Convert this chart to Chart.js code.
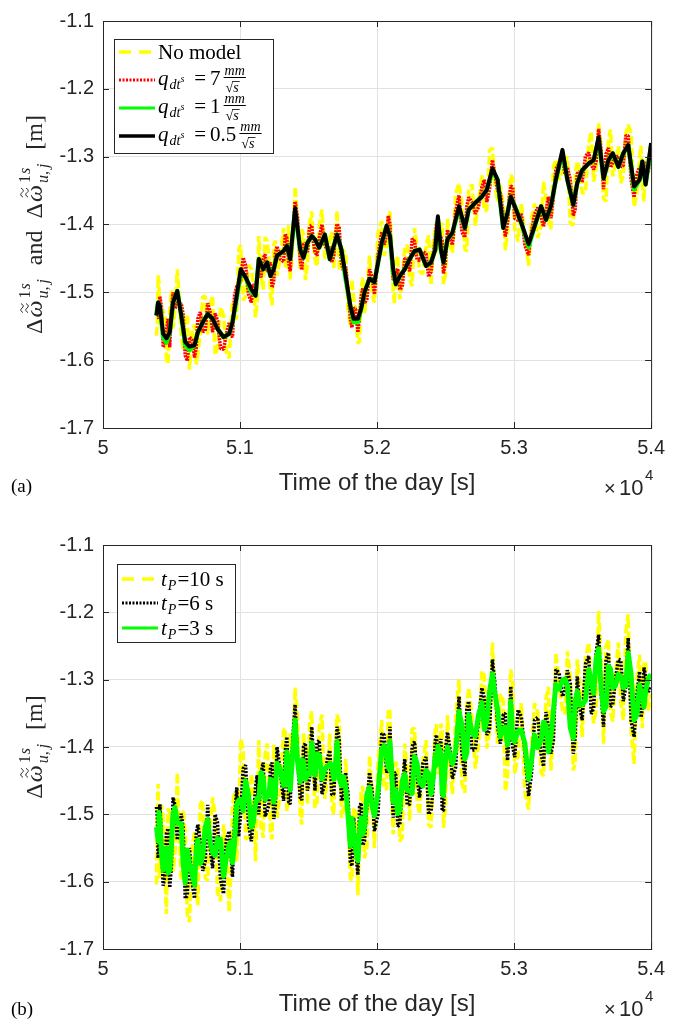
<!DOCTYPE html>
<html>
<head>
<meta charset="utf-8">
<script src="https://cdn.jsdelivr.net/npm/chart.js@4.4.1/dist/chart.umd.min.js"></script>
<style>
  html, body { margin: 0; padding: 0; background: #fff; }
  #wrap { position: relative; width: 673px; height: 1023px; }
  canvas { position: absolute; left: 0; }
</style>
</head>
<body>
<div id="wrap">
  <canvas id="chartA" width="673" height="512" style="top:0"></canvas>
  <canvas id="chartB" width="673" height="511" style="top:512px"></canvas>
</div>
<script>
// time of the day [s], read along the black trace of panel (a)
const sampleTimes = [
  50390, 50402, 50415, 50439, 50463, 50487, 50511, 50542, 50571, 50600,
  50631, 50668, 50692, 50728, 50764, 50800, 50836, 50880, 50921, 50945,
  50976, 51005, 51041, 51082, 51113, 51137, 51169, 51198, 51222, 51246,
  51270, 51318, 51342, 51366, 51402, 51439, 51463, 51492, 51523, 51547,
  51578, 51619, 51655, 51684, 51708, 51740, 51771, 51805, 51829, 51860,
  51884, 51908, 51945, 51981, 52034, 52070, 52094, 52118, 52137, 52166,
  52202, 52238, 52274, 52310, 52358, 52394, 52425, 52444, 52466, 52485,
  52514, 52550, 52598, 52641, 52669, 52717, 52765, 52801, 52842, 52880,
  52921, 52952, 52976, 53005, 53053, 53106, 53149, 53197, 53233, 53269,
  53305, 53353, 53389, 53432, 53461, 53497, 53545, 53581, 53617, 53653,
  53689, 53720, 53761, 53797, 53833, 53876, 53916, 53936, 53960, 54000
];
// extra sample times in between, used by the noisy series
const midTimes = [
  50396, 50408, 50427, 50451, 50475, 50499, 50526, 50556, 50585, 50615,
  50650, 50680, 50710, 50746, 50782, 50818, 50858, 50900, 50933, 50960,
  50990, 51023, 51061, 51097, 51125, 51153, 51183, 51210, 51234, 51258,
  51294, 51330, 51354, 51384, 51420, 51451, 51477, 51507, 51535, 51562,
  51598, 51637, 51669, 51696, 51724, 51755, 51788, 51817, 51844, 51872,
  51896, 51926, 51963, 52007, 52052, 52082, 52106, 52127, 52151, 52184,
  52220, 52256, 52292, 52334, 52376, 52409, 52434, 52455, 52475, 52499,
  52532, 52574, 52619, 52655, 52693, 52741, 52783, 52821, 52861, 52900,
  52936, 52964, 52990, 53029, 53079, 53127, 53173, 53215, 53251, 53287,
  53329, 53371, 53410, 53446, 53479, 53521, 53563, 53599, 53635, 53671,
  53704, 53740, 53779, 53815, 53854, 53896, 53926, 53948, 53980
];

// ---- panel (a) ----
const qHalf = [
  -1.534, -1.515, -1.520, -1.561, -1.568, -1.559, -1.515, -1.498, -1.534, -1.573,
  -1.580, -1.578, -1.559, -1.544, -1.532, -1.539, -1.554, -1.566, -1.561, -1.544,
  -1.505, -1.466, -1.478, -1.495, -1.505, -1.451, -1.466, -1.456, -1.476, -1.466,
  -1.446, -1.439, -1.432, -1.451, -1.376, -1.437, -1.449, -1.427, -1.417, -1.422,
  -1.434, -1.415, -1.451, -1.432, -1.415, -1.437, -1.476, -1.520, -1.539, -1.539,
  -1.524, -1.500, -1.480, -1.485, -1.427, -1.402, -1.417, -1.466, -1.488, -1.476,
  -1.466, -1.451, -1.439, -1.437, -1.461, -1.456, -1.437, -1.388, -1.437, -1.456,
  -1.422, -1.412, -1.373, -1.405, -1.378, -1.368, -1.359, -1.349, -1.317, -1.334,
  -1.405, -1.383, -1.359, -1.373, -1.398, -1.429, -1.403, -1.373, -1.393, -1.373,
  -1.334, -1.290, -1.334, -1.371, -1.339, -1.320, -1.310, -1.305, -1.271, -1.332,
  -1.305, -1.295, -1.315, -1.295, -1.283, -1.344, -1.334, -1.307, -1.341, -1.280
];
const qOne = [
  -1.534, -1.515, -1.520, -1.566, -1.574, -1.559, -1.515, -1.498, -1.534, -1.578,
  -1.585, -1.578, -1.559, -1.544, -1.532, -1.539, -1.554, -1.566, -1.561, -1.544,
  -1.509, -1.470, -1.478, -1.499, -1.505, -1.451, -1.466, -1.456, -1.476, -1.466,
  -1.446, -1.439, -1.432, -1.451, -1.380, -1.437, -1.449, -1.427, -1.417, -1.422,
  -1.434, -1.415, -1.451, -1.432, -1.415, -1.437, -1.481, -1.520, -1.544, -1.544,
  -1.524, -1.500, -1.480, -1.485, -1.427, -1.402, -1.417, -1.470, -1.488, -1.476,
  -1.466, -1.451, -1.439, -1.437, -1.461, -1.456, -1.437, -1.392, -1.437, -1.456,
  -1.422, -1.412, -1.377, -1.405, -1.378, -1.368, -1.359, -1.349, -1.321, -1.334,
  -1.405, -1.383, -1.359, -1.373, -1.398, -1.433, -1.403, -1.373, -1.393, -1.373,
  -1.334, -1.294, -1.334, -1.371, -1.339, -1.320, -1.310, -1.305, -1.275, -1.332,
  -1.305, -1.295, -1.315, -1.295, -1.283, -1.348, -1.334, -1.307, -1.341, -1.284
];
const qSeven = [
  -1.522, -1.533, -1.506, -1.581, -1.556, -1.581, -1.500, -1.514, -1.516, -1.593,
  -1.566, -1.596, -1.539, -1.558, -1.516, -1.559, -1.542, -1.584, -1.545, -1.566,
  -1.491, -1.482, -1.460, -1.515, -1.493, -1.469, -1.450, -1.470, -1.456, -1.484,
  -1.432, -1.455, -1.420, -1.469, -1.366, -1.453, -1.429, -1.441, -1.401, -1.440,
  -1.420, -1.431, -1.433, -1.446, -1.399, -1.457, -1.462, -1.538, -1.523, -1.559,
  -1.506, -1.516, -1.466, -1.503, -1.411, -1.416, -1.399, -1.482, -1.474, -1.496,
  -1.450, -1.469, -1.425, -1.453, -1.443, -1.470, -1.421, -1.400, -1.419, -1.472,
  -1.408, -1.430, -1.357, -1.419, -1.360, -1.384, -1.345, -1.367, -1.305, -1.350,
  -1.387, -1.397, -1.343, -1.391, -1.384, -1.445, -1.385, -1.389, -1.379, -1.391,
  -1.318, -1.304, -1.316, -1.387, -1.325, -1.338, -1.294, -1.319, -1.259, -1.348,
  -1.287, -1.309, -1.299, -1.313, -1.269, -1.360, -1.316, -1.321, -1.325, -1.292
];
const qSevenMid = [
  -1.521, -1.539, -1.522, -1.573, -1.539, -1.526, -1.524, -1.519, -1.533, -1.601,
  -1.570, -1.582, -1.529, -1.557, -1.529, -1.531, -1.583, -1.561, -1.563, -1.505,
  -1.491, -1.449, -1.502, -1.488, -1.480, -1.478, -1.444, -1.459, -1.493, -1.443,
  -1.451, -1.414, -1.454, -1.414, -1.390, -1.467, -1.428, -1.403, -1.426, -1.446,
  -1.400, -1.437, -1.456, -1.415, -1.405, -1.468, -1.495, -1.552, -1.525, -1.537,
  -1.494, -1.510, -1.477, -1.445, -1.430, -1.387, -1.451, -1.479, -1.465, -1.492,
  -1.451, -1.421, -1.452, -1.440, -1.477, -1.445, -1.397, -1.420, -1.423, -1.456,
  -1.421, -1.380, -1.411, -1.373, -1.367, -1.374, -1.334, -1.348, -1.328, -1.353,
  -1.418, -1.361, -1.345, -1.394, -1.431, -1.411, -1.375, -1.403, -1.359, -1.360,
  -1.310, -1.325, -1.333, -1.378, -1.322, -1.299, -1.312, -1.307, -1.290, -1.296,
  -1.316, -1.301, -1.315, -1.269, -1.334, -1.325, -1.321, -1.307, -1.322
];
const noModel = [
  -1.564, -1.475, -1.548, -1.526, -1.600, -1.529, -1.553, -1.466, -1.562, -1.537,
  -1.614, -1.548, -1.591, -1.506, -1.562, -1.505, -1.582, -1.534, -1.597, -1.514,
  -1.539, -1.430, -1.506, -1.465, -1.537, -1.417, -1.496, -1.424, -1.504, -1.430,
  -1.476, -1.405, -1.464, -1.481, -1.344, -1.467, -1.415, -1.459, -1.381, -1.452,
  -1.402, -1.449, -1.421, -1.464, -1.379, -1.467, -1.442, -1.550, -1.507, -1.575,
  -1.494, -1.532, -1.446, -1.515, -1.395, -1.432, -1.381, -1.498, -1.458, -1.510,
  -1.434, -1.481, -1.405, -1.469, -1.431, -1.490, -1.405, -1.418, -1.403, -1.488,
  -1.392, -1.442, -1.339, -1.437, -1.348, -1.402, -1.327, -1.379, -1.287, -1.366,
  -1.371, -1.413, -1.327, -1.407, -1.368, -1.461, -1.369, -1.403, -1.361, -1.407,
  -1.304, -1.322, -1.300, -1.401, -1.307, -1.354, -1.280, -1.337, -1.251, -1.362,
  -1.273, -1.329, -1.285, -1.327, -1.253, -1.374, -1.302, -1.341, -1.311, -1.300
];
const noModelMid = [
  -1.549, -1.484, -1.542, -1.537, -1.605, -1.497, -1.527, -1.508, -1.585, -1.533,
  -1.557, -1.606, -1.561, -1.506, -1.519, -1.592, -1.522, -1.589, -1.548, -1.538,
  -1.437, -1.512, -1.460, -1.490, -1.514, -1.476, -1.419, -1.446, -1.519, -1.424,
  -1.448, -1.465, -1.401, -1.435, -1.394, -1.407, -1.482, -1.398, -1.427, -1.462,
  -1.378, -1.449, -1.411, -1.421, -1.464, -1.438, -1.526, -1.481, -1.525, -1.573,
  -1.478, -1.494, -1.502, -1.412, -1.446, -1.387, -1.431, -1.517, -1.446, -1.483,
  -1.430, -1.491, -1.432, -1.473, -1.416, -1.430, -1.442, -1.420, -1.398, -1.475,
  -1.431, -1.354, -1.369, -1.439, -1.341, -1.365, -1.380, -1.291, -1.343, -1.343,
  -1.438, -1.357, -1.332, -1.425, -1.417, -1.392, -1.420, -1.337, -1.395, -1.315,
  -1.334, -1.308, -1.398, -1.325, -1.318, -1.353, -1.263, -1.316, -1.283, -1.366,
  -1.260, -1.311, -1.339, -1.267, -1.265, -1.355, -1.284, -1.366, -1.302
];

// ---- panel (b) ----
const tP3 = [
  -1.519, -1.540, -1.508, -1.583, -1.550, -1.583, -1.499, -1.513, -1.514, -1.602,
  -1.574, -1.605, -1.538, -1.562, -1.508, -1.557, -1.536, -1.592, -1.545, -1.572,
  -1.485, -1.478, -1.450, -1.519, -1.484, -1.477, -1.445, -1.473, -1.448, -1.482,
  -1.424, -1.457, -1.407, -1.464, -1.360, -1.452, -1.420, -1.440, -1.394, -1.442,
  -1.412, -1.432, -1.425, -1.448, -1.392, -1.457, -1.460, -1.547, -1.525, -1.569,
  -1.505, -1.520, -1.460, -1.502, -1.404, -1.416, -1.392, -1.482, -1.464, -1.494,
  -1.440, -1.465, -1.414, -1.452, -1.435, -1.470, -1.412, -1.399, -1.410, -1.472,
  -1.400, -1.425, -1.347, -1.418, -1.352, -1.384, -1.334, -1.362, -1.291, -1.345,
  -1.372, -1.397, -1.332, -1.392, -1.375, -1.448, -1.382, -1.390, -1.368, -1.385,
  -1.307, -1.301, -1.308, -1.387, -1.317, -1.337, -1.285, -1.320, -1.254, -1.347,
  -1.280, -1.312, -1.292, -1.312, -1.260, -1.360, -1.308, -1.322, -1.317, -1.292
];
const tP3Mid = [
  -1.529, -1.497, -1.558, -1.557, -1.587, -1.548, -1.490, -1.513, -1.573, -1.553,
  -1.588, -1.554, -1.573, -1.519, -1.541, -1.561, -1.537, -1.565, -1.541, -1.543,
  -1.479, -1.495, -1.470, -1.512, -1.476, -1.438, -1.478, -1.473, -1.449, -1.469,
  -1.433, -1.456, -1.428, -1.412, -1.422, -1.419, -1.448, -1.441, -1.412, -1.410,
  -1.448, -1.429, -1.426, -1.431, -1.447, -1.444, -1.501, -1.506, -1.553, -1.525,
  -1.530, -1.470, -1.487, -1.467, -1.398, -1.431, -1.431, -1.475, -1.499, -1.450,
  -1.465, -1.469, -1.424, -1.458, -1.439, -1.447, -1.427, -1.404, -1.469, -1.422,
  -1.413, -1.404, -1.367, -1.409, -1.379, -1.352, -1.374, -1.318, -1.322, -1.385,
  -1.370, -1.381, -1.387, -1.376, -1.395, -1.421, -1.401, -1.363, -1.407, -1.346,
  -1.314, -1.299, -1.371, -1.332, -1.338, -1.331, -1.302, -1.269, -1.312, -1.340,
  -1.284, -1.309, -1.295, -1.309, -1.292, -1.353, -1.319, -1.341, -1.298
];
const tP6 = [
  -1.489, -1.565, -1.485, -1.606, -1.528, -1.609, -1.475, -1.538, -1.499, -1.625,
  -1.550, -1.625, -1.515, -1.584, -1.486, -1.580, -1.512, -1.618, -1.525, -1.593,
  -1.460, -1.498, -1.427, -1.540, -1.460, -1.500, -1.423, -1.495, -1.430, -1.507,
  -1.400, -1.480, -1.385, -1.485, -1.337, -1.475, -1.400, -1.465, -1.370, -1.465,
  -1.390, -1.454, -1.405, -1.470, -1.370, -1.480, -1.438, -1.570, -1.505, -1.590,
  -1.483, -1.540, -1.438, -1.525, -1.380, -1.438, -1.370, -1.505, -1.442, -1.515,
  -1.418, -1.485, -1.392, -1.475, -1.415, -1.495, -1.390, -1.420, -1.388, -1.495,
  -1.378, -1.447, -1.325, -1.443, -1.332, -1.404, -1.312, -1.382, -1.270, -1.370,
  -1.352, -1.420, -1.310, -1.415, -1.355, -1.473, -1.360, -1.410, -1.348, -1.410,
  -1.285, -1.325, -1.286, -1.410, -1.295, -1.360, -1.265, -1.342, -1.233, -1.370,
  -1.260, -1.337, -1.270, -1.332, -1.238, -1.385, -1.288, -1.344, -1.295, -1.312
];
const tP6Mid = [
  -1.501, -1.552, -1.538, -1.593, -1.521, -1.577, -1.487, -1.524, -1.521, -1.621,
  -1.601, -1.530, -1.541, -1.570, -1.551, -1.500, -1.598, -1.537, -1.556, -1.510,
  -1.533, -1.432, -1.512, -1.510, -1.442, -1.440, -1.503, -1.486, -1.423, -1.488,
  -1.436, -1.405, -1.481, -1.391, -1.418, -1.479, -1.394, -1.446, -1.411, -1.394,
  -1.470, -1.417, -1.471, -1.425, -1.388, -1.474, -1.470, -1.577, -1.553, -1.489,
  -1.546, -1.486, -1.462, -1.500, -1.382, -1.431, -1.451, -1.437, -1.518, -1.459,
  -1.486, -1.399, -1.444, -1.425, -1.500, -1.462, -1.382, -1.404, -1.494, -1.403,
  -1.403, -1.430, -1.409, -1.343, -1.405, -1.361, -1.328, -1.375, -1.307, -1.395,
  -1.350, -1.385, -1.400, -1.345, -1.409, -1.440, -1.356, -1.429, -1.371, -1.391,
  -1.290, -1.316, -1.306, -1.385, -1.342, -1.277, -1.351, -1.260, -1.319, -1.270,
  -1.340, -1.299, -1.271, -1.311, -1.361, -1.323, -1.356, -1.282, -1.318
];
const tP10 = [
  -1.604, -1.455, -1.595, -1.506, -1.648, -1.499, -1.585, -1.438, -1.599, -1.525,
  -1.660, -1.525, -1.635, -1.479, -1.598, -1.475, -1.617, -1.515, -1.645, -1.488,
  -1.570, -1.388, -1.537, -1.440, -1.570, -1.390, -1.535, -1.395, -1.530, -1.397,
  -1.505, -1.375, -1.495, -1.380, -1.312, -1.500, -1.380, -1.485, -1.347, -1.490,
  -1.370, -1.477, -1.380, -1.500, -1.352, -1.505, -1.418, -1.595, -1.490, -1.620,
  -1.465, -1.565, -1.413, -1.550, -1.360, -1.463, -1.347, -1.530, -1.422, -1.540,
  -1.395, -1.510, -1.372, -1.500, -1.390, -1.520, -1.370, -1.440, -1.365, -1.520,
  -1.353, -1.470, -1.300, -1.468, -1.312, -1.432, -1.287, -1.402, -1.245, -1.395,
  -1.332, -1.445, -1.285, -1.440, -1.335, -1.493, -1.335, -1.438, -1.328, -1.435,
  -1.260, -1.345, -1.258, -1.435, -1.270, -1.385, -1.245, -1.365, -1.198, -1.395,
  -1.240, -1.362, -1.245, -1.360, -1.203, -1.425, -1.263, -1.372, -1.275, -1.322
];
const tP10Mid = [
  -1.513, -1.581, -1.486, -1.589, -1.491, -1.504, -1.558, -1.525, -1.493, -1.649,
  -1.552, -1.610, -1.485, -1.595, -1.517, -1.501, -1.629, -1.557, -1.585, -1.467,
  -1.503, -1.403, -1.534, -1.464, -1.484, -1.518, -1.410, -1.445, -1.537, -1.417,
  -1.469, -1.372, -1.480, -1.416, -1.358, -1.515, -1.408, -1.365, -1.440, -1.482,
  -1.352, -1.445, -1.486, -1.399, -1.363, -1.492, -1.489, -1.598, -1.497, -1.549,
  -1.458, -1.550, -1.467, -1.423, -1.462, -1.343, -1.471, -1.483, -1.431, -1.534,
  -1.437, -1.373, -1.480, -1.422, -1.515, -1.443, -1.367, -1.436, -1.377, -1.490,
  -1.429, -1.356, -1.455, -1.337, -1.355, -1.396, -1.294, -1.378, -1.334, -1.321,
  -1.466, -1.341, -1.303, -1.412, -1.467, -1.401, -1.349, -1.443, -1.311, -1.374,
  -1.306, -1.351, -1.295, -1.424, -1.306, -1.267, -1.322, -1.345, -1.268, -1.252,
  -1.348, -1.293, -1.335, -1.229, -1.376, -1.297, -1.323, -1.273, -1.346
];

const xTicks = [50000, 51000, 52000, 53000, 54000];
const yTicks = [-1.7, -1.6, -1.5, -1.4, -1.3, -1.2, -1.1];

const SANS = '"Liberation Sans", Arial, sans-serif';
const SERIF = '"Liberation Serif", "Times New Roman", serif';
const INK = '#262626';
const GRID = '#e2e2e2';
const YELLOW = '#ffff00', RED = '#ff0000', GREEN = '#00ff00', BLACK = '#000000';

const pts = vals => sampleTimes.map((t, i) => ({ x: t, y: vals[i] }));

// main samples interleaved with the in-between samples
function densePts(vals, mids) {
  const out = [];
  sampleTimes.forEach((t, i) => {
    out.push({ x: t, y: vals[i] });
    if (i < midTimes.length) out.push({ x: midTimes[i], y: mids[i] });
  });
  return out;
}

function series(label, data, color, width, dash) {
  return {
    label, data, borderColor: color, borderWidth: width,
    borderDash: dash || [], borderJoinStyle: dash ? 'bevel' : 'round',
    pointRadius: 0, tension: 0, fill: false
  };
}

// small wavy accent for the double tilde
function tilde(ctx, cx, cy, w) {
  ctx.beginPath();
  ctx.moveTo(cx - w / 2, cy + 1);
  ctx.quadraticCurveTo(cx - w / 4, cy - 3, cx, cy);
  ctx.quadraticCurveTo(cx + w / 4, cy + 3, cx + w / 2, cy - 1);
  ctx.stroke();
}

// Δω with double tilde, ^{1s}, _{u,j}; baseline at y=0
function omegaGroup(ctx, x, draw) {
  ctx.font = `24px ${SERIF}`;
  if (draw) ctx.fillText('Δ', x, 0);
  x += ctx.measureText('Δ').width + 1;
  ctx.font = `italic 24px ${SERIF}`;
  const w = ctx.measureText('ω').width;
  if (draw) {
    ctx.fillText('ω', x, 0);
    tilde(ctx, x + w / 2 + 1, -15, 9);
    tilde(ctx, x + w / 2 + 1, -20, 9);
  }
  x += w + 2;
  ctx.font = `16px ${SERIF}`;
  const w1 = ctx.measureText('1').width;
  if (draw) ctx.fillText('1', x, -12);
  ctx.font = `italic 16px ${SERIF}`;
  const ws = ctx.measureText('s').width;
  const wu = ctx.measureText('u,').width;
  const wj = ctx.measureText('j').width;
  if (draw) {
    ctx.fillText('s', x + w1 + 1, -12);
    ctx.fillText('u,', x, 6);
    ctx.fillText('j', x + wu + 3, 6);
  }
  return x + Math.max(w1 + ws + 1, wu + wj + 3) + 2;
}

function yLabel(ctx, cx, cy, both) {
  ctx.save();
  ctx.translate(cx, cy);
  ctx.rotate(-Math.PI / 2);
  ctx.fillStyle = INK; ctx.strokeStyle = INK; ctx.lineWidth = 1;
  ctx.textAlign = 'left'; ctx.textBaseline = 'alphabetic';
  const parts = both ? ['g', '  and  ', 'g', '  [m]'] : ['g', '  [m]'];
  const run = (x0, draw) => {
    let x = x0;
    parts.forEach(p => {
      if (p === 'g') { x = omegaGroup(ctx, x, draw); }
      else {
        ctx.font = `24px ${SERIF}`;
        if (draw) ctx.fillText(p, x, 0);
        x += ctx.measureText(p).width;
      }
    });
    return x - x0;
  };
  const W = run(0, false);
  run(-W / 2, true);
  ctx.restore();
}

function qText(ctx, x, y, num) {
  ctx.font = `italic 21px ${SERIF}`;
  ctx.fillText('q', x, y);
  x += ctx.measureText('q').width + 1;
  ctx.font = `italic 14px ${SERIF}`;
  ctx.fillText('dt', x, y + 4);
  x += ctx.measureText('dt').width;
  ctx.font = `italic 10px ${SERIF}`;
  ctx.fillText('s', x, y - 3);
  x += ctx.measureText('s').width + 10;
  ctx.font = `21px ${SERIF}`;
  ctx.fillText('=', x, y);
  x += ctx.measureText('=').width + 4;
  ctx.fillText(num, x, y);
  x += ctx.measureText(num).width + 3;
  ctx.font = `italic 14px ${SERIF}`;
  const wm = ctx.measureText('mm').width;
  ctx.fillText('mm', x + 1, y - 10);
  ctx.fillRect(x, y - 8, wm + 2, 1);
  ctx.font = `14px ${SERIF}`;
  const wr = ctx.measureText('√').width;
  ctx.fillText('√', x + 2, y + 7);
  ctx.font = `italic 14px ${SERIF}`;
  ctx.fillText('s', x + 2 + wr, y + 7);
  ctx.fillRect(x + 1 + wr, y - 4, ctx.measureText('s').width + 2, 0.8);
}

function tText(ctx, x, y, num) {
  ctx.font = `italic 21px ${SERIF}`;
  ctx.fillText('t', x, y);
  x += ctx.measureText('t').width + 1;
  ctx.font = `italic 14px ${SERIF}`;
  ctx.fillText('P', x, y + 4);
  x += ctx.measureText('P').width + 1;
  ctx.font = `21px ${SERIF}`;
  ctx.fillText('=' + num + ' s', x, y);
}

function panelFrame(spec) {
  return {
    id: 'panelFrame',
    afterDraw(chart) {
      const { ctx, chartArea: a } = chart;
      const sx = chart.scales.x, sy = chart.scales.y;
      ctx.save();
      ctx.strokeStyle = INK; ctx.lineWidth = 1;
      ctx.beginPath();
      xTicks.forEach(v => {
        const p = Math.round(sx.getPixelForValue(v)) + 0.5;
        ctx.moveTo(p, a.bottom); ctx.lineTo(p, a.bottom - 6);
        ctx.moveTo(p, a.top); ctx.lineTo(p, a.top + 6);
      });
      yTicks.forEach(v => {
        const p = Math.round(sy.getPixelForValue(v)) + 0.5;
        ctx.moveTo(a.left, p); ctx.lineTo(a.left + 6, p);
        ctx.moveTo(a.right, p); ctx.lineTo(a.right - 6, p);
      });
      ctx.stroke();
      ctx.strokeRect(a.left + 0.5, a.top + 0.5, a.width, a.height);

      // x title, exponent, panel letter
      ctx.fillStyle = INK;
      ctx.textBaseline = 'alphabetic';
      ctx.textAlign = 'center';
      ctx.font = `24px ${SANS}`;
      ctx.fillText('Time of the day [s]', (a.left + a.right) / 2, a.bottom + 62);
      ctx.textAlign = 'left';
      ctx.font = `20px ${SANS}`;
      ctx.fillText('×', 604, a.bottom + 67);
      ctx.font = `22px ${SANS}`;
      ctx.fillText('10', 619, a.bottom + 67);
      ctx.font = `15px ${SANS}`;
      ctx.fillText('4', 645, a.bottom + 52);
      ctx.fillStyle = '#000';
      ctx.font = `19px ${SERIF}`;
      ctx.fillText(spec.panel, 11, a.bottom + spec.panelDy);

      yLabel(ctx, 42, (a.top + a.bottom) / 2, spec.both);

      // legend
      const b = spec.box;
      ctx.fillStyle = '#fff';
      ctx.fillRect(b.x, b.y, b.w, b.h);
      ctx.strokeStyle = INK; ctx.lineWidth = 1;
      ctx.strokeRect(b.x + 0.5, b.y + 0.5, b.w, b.h);
      spec.rows.forEach(r => {
        ctx.save();
        ctx.strokeStyle = r.color; ctx.lineWidth = r.width;
        ctx.setLineDash(r.dash || []);
        ctx.beginPath();
        ctx.moveTo(b.x + 5, r.y); ctx.lineTo(b.x + 41, r.y);
        ctx.stroke();
        ctx.restore();
        ctx.fillStyle = '#000';
        ctx.textAlign = 'left';
        r.text(ctx, b.x + 44);
      });
      ctx.restore();
    }
  };
}

function baseOptions(padTop, xHeight) {
  const tickFont = { family: SANS, size: 20 };
  return {
    responsive: false, animation: false, events: [],
    layout: { padding: { top: padTop, right: 15, left: 0, bottom: 0 } },
    plugins: { legend: { display: false }, tooltip: { enabled: false } },
    scales: {
      x: {
        type: 'linear', min: 50000, max: 54000,
        afterFit: s => { s.height = xHeight; },
        grid: { color: GRID, drawTicks: false },
        border: { display: false },
        ticks: {
          stepSize: 1000, padding: 8, color: INK, font: tickFont, maxRotation: 0,
          callback: v => String(Number((v / 1e4).toFixed(1)))
        }
      },
      y: {
        type: 'linear', min: -1.7, max: -1.1,
        afterFit: s => { s.width = 103; },
        grid: { color: GRID, drawTicks: false },
        border: { display: false },
        ticks: { stepSize: 0.1, padding: 9, color: INK, font: tickFont, callback: v => v.toFixed(1) }
      }
    }
  };
}

new Chart(document.getElementById('chartA'), {
  type: 'line',
  data: {
    datasets: [
      series('q = 0.5 mm/√s', pts(qHalf), BLACK, 4),
      series('q = 1 mm/√s', pts(qOne), GREEN, 4.5),
      series('q = 7 mm/√s', densePts(qSeven, qSevenMid), RED, 3.5, [2, 1]),
      series('No model', densePts(noModel, noModelMid), YELLOW, 3.5, [9, 3])
    ]
  },
  options: baseOptions(17, 84),
  plugins: [panelFrame({
    panel: '(a)', panelDy: 64, both: true,
    box: { x: 114, y: 39, w: 159, h: 114 },
    rows: [
      { y: 52, color: YELLOW, width: 3.3, dash: [12, 8],
        text: (ctx, x) => { ctx.font = `21px ${SERIF}`; ctx.fillText('No model', x, 59); } },
      { y: 80, color: RED, width: 3, dash: [2, 1.5], text: (ctx, x) => qText(ctx, x, 85, '7') },
      { y: 108, color: GREEN, width: 3, text: (ctx, x) => qText(ctx, x, 113, '1') },
      { y: 136, color: BLACK, width: 3.5, text: (ctx, x) => qText(ctx, x, 141, '0.5') }
    ]
  })]
});

new Chart(document.getElementById('chartB'), {
  type: 'line',
  data: {
    datasets: [
      series('tP = 3 s', densePts(tP3, tP3Mid), GREEN, 5),
      series('tP = 6 s', densePts(tP6, tP6Mid), BLACK, 3.5, [2, 1.5]),
      series('tP = 10 s', densePts(tP10, tP10Mid), YELLOW, 3.5, [9, 3])
    ]
  },
  options: baseOptions(33, 74),
  plugins: [panelFrame({
    panel: '(b)', panelDy: 66, both: false,
    box: { x: 117, y: 52, w: 118, h: 78 },
    rows: [
      { y: 67, color: YELLOW, width: 3.3, dash: [12, 8], text: (ctx, x) => tText(ctx, x, 74, '10') },
      { y: 91, color: BLACK, width: 3, dash: [2, 1.5], text: (ctx, x) => tText(ctx, x, 98, '6') },
      { y: 116, color: GREEN, width: 3, text: (ctx, x) => tText(ctx, x, 123, '3') }
    ]
  })]
});
</script>
</body>
</html>
